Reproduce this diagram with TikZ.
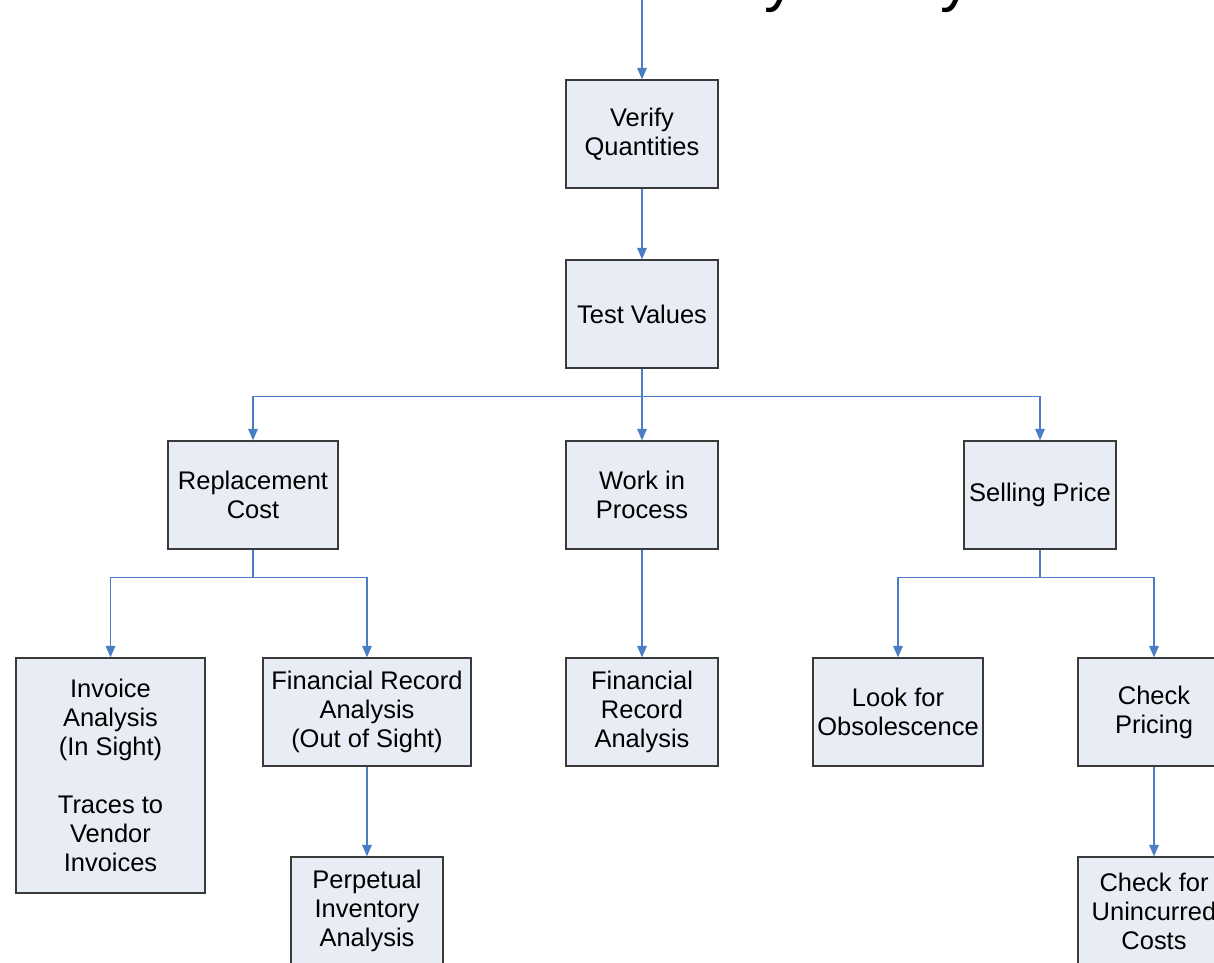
\documentclass[tikz,border=0pt]{standalone}
\usepackage{fontspec}
\setmainfont{Liberation Sans}
\usetikzlibrary{arrows.meta}
\definecolor{boxfill}{HTML}{E8ECF5}
\definecolor{boxline}{HTML}{3A3A3A}
\definecolor{arrblue}{HTML}{4A7EC4}
\tikzset{
  box/.style={draw=boxline, line width=0.8pt, fill=boxfill, align=center,
    font=\fontsize{14.5pt}{16.5pt}\selectfont, inner sep=2pt,
    minimum width=3.04cm, minimum height=2.16cm},
  arr/.style={draw=arrblue, line width=0.6pt, -{Triangle[width=5.5pt,length=6.5pt]}},
  titletext/.style={font=\fontsize{36pt}{40pt}\selectfont, anchor=base west, inner sep=0pt}
}
\begin{document}
\begin{tikzpicture}[x=0.02cm, y=-0.02cm]
\useasboundingbox (0,0) rectangle (1214,963);
\clip (0,0) rectangle (1214,963);
\node[titletext] (title) at (318,0) {Overall Inventory Analysis};
\coordinate (top) at (642,0);
\node[box] (vq) at (642,134) {Verify\\Quantities};
\node[box] (tv) at (642,314) {Test Values};
\node[box, minimum width=3.4cm] (rc) at (253,495) {Replacement\\Cost};
\node[box] (wip) at (642,495) {Work in\\Process};
\node[box] (sp) at (1040,495) {Selling Price};
\node[box, minimum width=3.78cm, minimum height=4.7cm] (ia) at (110.5,775.5) {Invoice\\Analysis\\(In Sight)\\[16.5pt]Traces to\\Vendor\\Invoices};
\node[box, minimum width=4.16cm] (fros) at (367,712) {Financial Record\\Analysis\\(Out of Sight)};
\node[box] (fra) at (642,712) {Financial\\Record\\Analysis};
\node[box, minimum width=3.4cm] (lfo) at (898,712) {Look for\\Obsolescence};
\node[box] (cp) at (1154,712) {Check\\Pricing};
\node[box] (pia) at (367,911) {Perpetual\\Inventory\\Analysis};
\node[box] (cuc) at (1154,911) {Check for\\Unincurred\\Costs};
\draw[arr] (top) -- (vq.north);
\draw[arr] (vq.south) -- (tv.north);
\draw[arr] (tv.south) -- ++(0,28) -| (rc.north);
\draw[arr] (tv.south) -- (wip.north);
\draw[arr] (tv.south) -- ++(0,28) -| (sp.north);
\draw[arr] (rc.south) -- ++(0,28) -| (ia.north);
\draw[arr] (rc.south) -- ++(0,28) -| (fros.north);
\draw[arr] (wip.south) -- (fra.north);
\draw[arr] (sp.south) -- ++(0,28) -| (lfo.north);
\draw[arr] (sp.south) -- ++(0,28) -| (cp.north);
\draw[arr] (fros.south) -- (pia.north);
\draw[arr] (cp.south) -- (cuc.north);
\end{tikzpicture}
\end{document}
